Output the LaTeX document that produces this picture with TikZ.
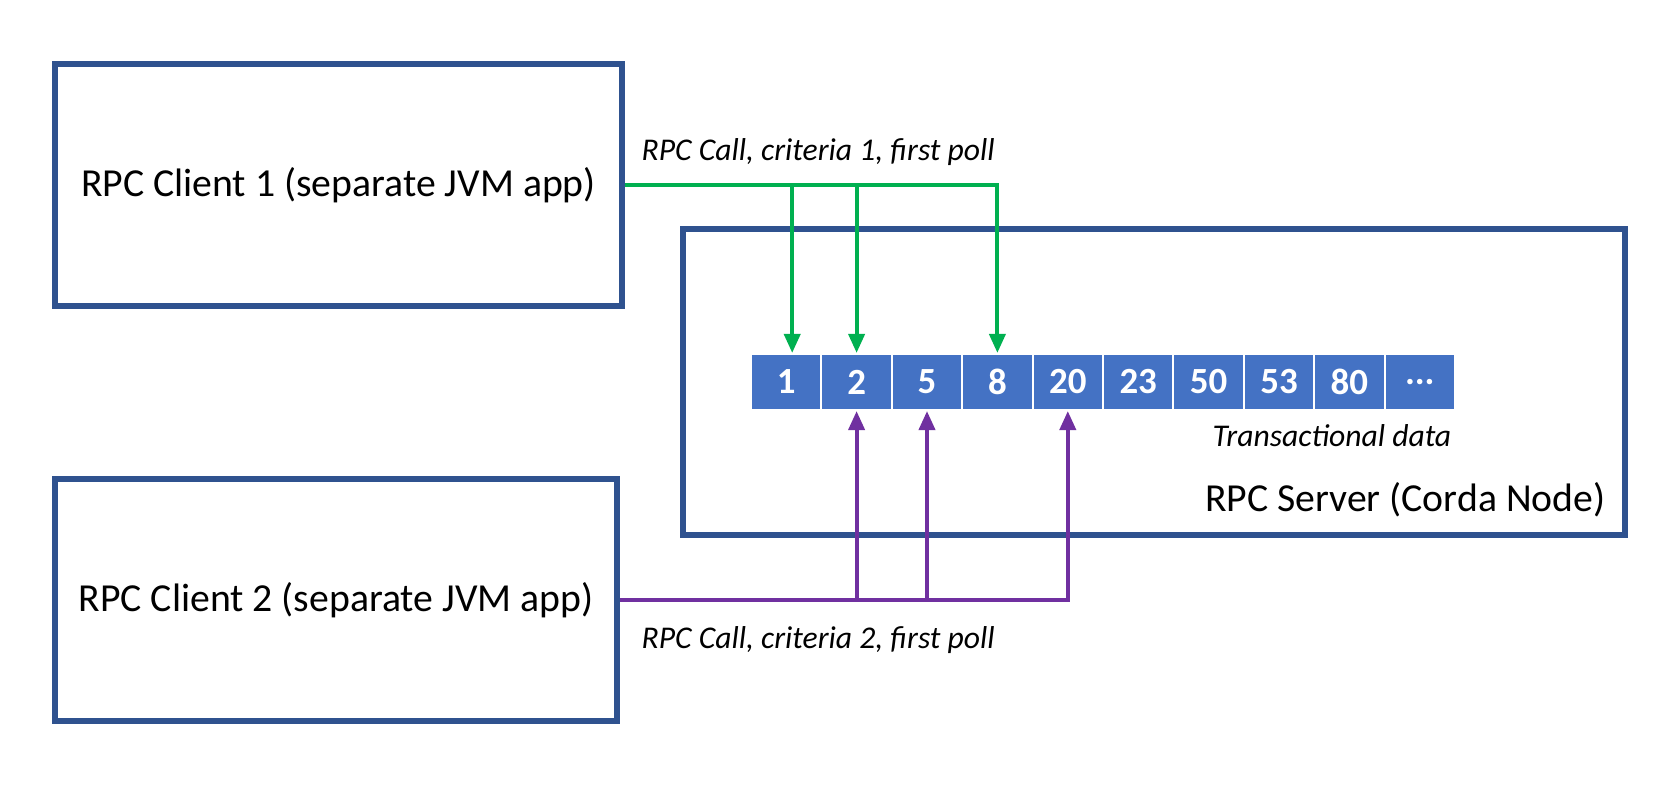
\documentclass[tikz,border=0pt]{standalone}
\usepackage{fontspec}
\setmainfont{Carlito}
\usetikzlibrary{positioning,arrows.meta}
\definecolor{boxblue}{HTML}{2F528F}
\definecolor{cellblue}{HTML}{4472C4}
\definecolor{callgreen}{HTML}{00B050}
\definecolor{callpurple}{HTML}{7030A0}

\begin{document}
\begin{tikzpicture}[
  box/.style={draw=boxblue, line width=1.7pt, inner sep=0pt, font=\fontsize{11.3}{13}\selectfont},
  cell/.style={fill=cellblue, draw=white, line width=0.6pt, minimum width=0.704cm, minimum height=0.56cm, inner sep=0pt, text=white, font=\fontsize{10.5}{12}\selectfont\bfseries},
  note/.style={inner sep=0pt, font=\fontsize{9}{11}\selectfont\itshape},
  call1/.style={color=callgreen, line width=1.1pt, -{Triangle[length=1.9mm,width=1.6mm]}},
  call2/.style={color=callpurple, line width=1.1pt, -{Triangle[length=1.9mm,width=1.6mm]}}]
  \useasboundingbox (0,0) rectangle (16.68,8);
  \node[box, minimum width=5.67cm, minimum height=2.42cm] (client1) at (3.385,6.15) {RPC Client 1 (separate JVM app)};
  \node[box, minimum width=5.62cm, minimum height=2.42cm] (client2) at (3.36,2.0) {RPC Client 2 (separate JVM app)};
  \node[box, minimum width=9.42cm, minimum height=3.06cm] (server) at (11.54,4.18) {};
  \node[cell] (n1) at (7.862,4.18) {1};
  \node[cell] (n2) at (8.566,4.18) {2};
  \node[cell] (n5) at (9.270,4.18) {5};
  \node[cell] (n8) at (9.974,4.18) {8};
  \node[cell] (n20) at (10.678,4.18) {20};
  \node[cell] (n23) at (11.382,4.18) {23};
  \node[cell] (n50) at (12.086,4.18) {50};
  \node[cell] (n53) at (12.790,4.18) {53};
  \node[cell] (n80) at (13.494,4.18) {80};
  \node[cell] (ndots) at (14.198,4.18) {...};
  \node[note, anchor=east] (data) at (14.52,3.64) {Transactional data};
  \node[inner sep=0pt, anchor=east, font=\fontsize{11.3}{13}\selectfont] (serverlabel) at (16.06,3.00) {RPC Server (Corda Node)};
  \node[note, anchor=west] (poll1) at (6.41,6.48) {RPC Call, criteria 1, first poll};
  \node[note, anchor=west] (poll2) at (6.41,1.60) {RPC Call, criteria 2, first poll};
  % first client
  \draw[call1] (client1.east) -| (n8.north);
  \draw[call1] ([xshift=0.6mm]n1.north |- client1.east) -- ([xshift=0.6mm]n1.north);
  \draw[call1] (n2.north |- client1.east) -- (n2.north);
  % second client
  \draw[call2] (client2.east) -| (n20.south);
  \draw[call2] (n2.south |- client2.east) -- (n2.south);
  \draw[call2] (n5.south |- client2.east) -- (n5.south);
\end{tikzpicture}
\end{document}
